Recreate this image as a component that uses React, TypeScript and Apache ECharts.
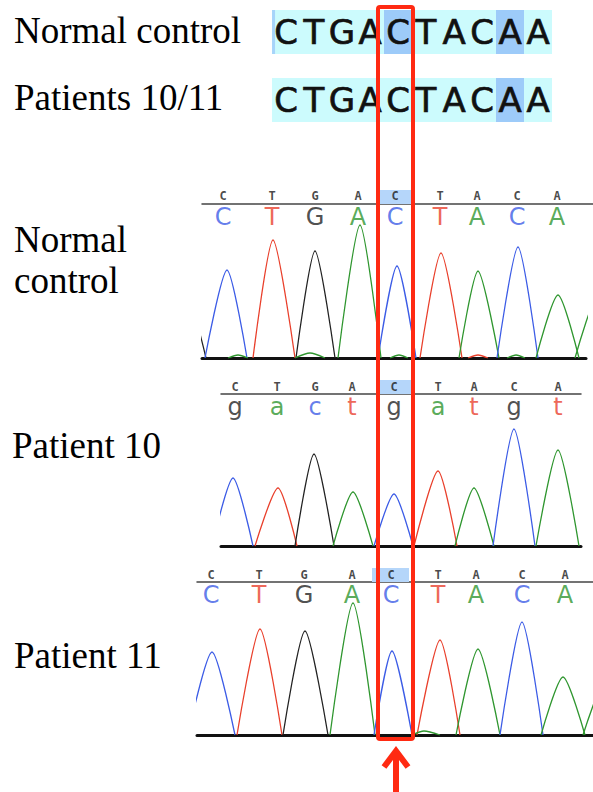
import React, { useEffect, useRef } from "react";
import * as echarts from "echarts";

// ---------- DATA ----------
const TOP_SEQ_NORMAL = ["C", "T", "G", "A", "C", "T", "A", "C", "A", "A"];
const TOP_SEQ_PATIENT = ["C", "T", "G", "A", "C", "T", "A", "C", "A", "A"];
const TOP_HL_NORMAL = [4, 8];
const TOP_HL_PATIENT = [8];

const REF_BASES = ["C", "T", "G", "A", "C", "T", "A", "C", "A"];
const CALLS_NORMAL = ["C", "T", "G", "A", "C", "T", "A", "C", "A"];
const CALLS_P10 = ["g", "a", "c", "t", "g", "a", "t", "g", "t"];
const CALLS_P11 = ["C", "T", "G", "A", "C", "T", "A", "C", "A"];

// base-call positions along the scan (scan units)
const POS_NORMAL = [21, 70, 113, 156, 193, 238, 275, 315, 355];
const POS_P10 = [14, 56, 94, 131, 173, 217, 253, 293, 337];
const POS_P11 = [14, 62, 107, 155, 194, 241, 279, 325, 368];

// highlighted reference base (scan range)
const HL_NORMAL = [178, 209];
const HL_P10 = [156, 190];
const HL_P11 = [175, 212];

// peaks: [channel, left foot, apex, intensity, right foot]
const PEAKS_NORMAL: [string, number, number, number, number][] = [
  ["G", -40, -18, 70, 4],
  ["C", 3, 25, 88, 45],
  ["T", 51, 71, 118, 93],
  ["G", 94, 113, 107, 133],
  ["A", 136, 158, 133, 179],
  ["C", 176, 195, 92, 214],
  ["T", 218, 239, 105, 260],
  ["A", 257, 276, 87, 297],
  ["C", 295, 316, 111, 336],
  ["A", 334, 356, 63, 377],
  ["A", 373, 400, 72, 425],
  ["A", 26, 36, 3, 46],
  ["A", 93, 108, 5, 123],
  ["A", 188, 197, 3, 206],
  ["T", 266, 276, 3, 286],
  ["A", 305, 314, 3, 323],
];
const PEAKS_P10: [string, number, number, number, number][] = [
  ["C", -9, 12, 68, 32],
  ["T", 34, 57, 58, 76],
  ["G", 74, 93, 92, 113],
  ["A", 112, 132, 54, 152],
  ["C", 153, 173, 52, 192],
  ["T", 193, 217, 75, 236],
  ["A", 234, 253, 58, 273],
  ["C", 272, 293, 117, 314],
  ["A", 315, 337, 96, 358],
];
const PEAKS_P11: [string, number, number, number, number][] = [
  ["C", -9, 15, 83, 38],
  ["T", 40, 63, 106, 85],
  ["G", 86, 108, 104, 131],
  ["A", 133, 156, 132, 178],
  ["C", 177, 195, 84, 215],
  ["T", 220, 243, 95, 263],
  ["A", 259, 281, 86, 303],
  ["C", 303, 325, 113, 346],
  ["A", 344, 366, 58, 388],
  ["A", 386, 412, 62, 436],
  ["A", 215, 227, 4, 243],
];

// ---------- STYLE ----------
const BASE_COLORS: Record<string, string> = {
  A: "#2f962f",
  C: "#3c5ce6",
  G: "#222222",
  T: "#e9402c",
};
const CYAN = "#ccfbfd";
const TOP_HL = "#9dcbf9";
const REF_HL = "#b5d6fa";
const RED = "#ff2a12";

const PANELS = [
  {
    refs: REF_BASES, calls: CALLS_NORMAL, pos: POS_NORMAL, hl: HL_NORMAL, peaks: PEAKS_NORMAL,
    left: 202, traceW: 384, refW: 391, refTop: 190, refH: 14, refY: 0.56,
    traceTop: 204, traceH: 154, callY: 141,
  },
  {
    refs: REF_BASES, calls: CALLS_P10, pos: POS_P10, hl: HL_P10, peaks: PEAKS_P10,
    left: 221, traceW: 360, refW: 360, refTop: 380, refH: 14, refY: 0.5,
    traceTop: 394, traceH: 152, callY: 139,
  },
  {
    refs: REF_BASES, calls: CALLS_P11, pos: POS_P11, hl: HL_P11, peaks: PEAKS_P11,
    left: 197, traceW: 396, refW: 396, refTop: 568, refH: 14, refY: 0.5,
    traceTop: 582, traceH: 153, callY: 140,
  },
];

function hiddenAxis(gridIndex: number, min: number, max: number) {
  return {
    type: "value", gridIndex, min, max,
    axisLine: { show: false }, axisTick: { show: false },
    axisLabel: { show: false }, splitLine: { show: false },
  };
}

function lineAxis(gridIndex: number, min: number, max: number, color: string, width: number) {
  return {
    type: "value", gridIndex, min, max,
    axisLine: { show: true, onZero: false, lineStyle: { color, width } },
    axisTick: { show: false }, axisLabel: { show: false }, splitLine: { show: false },
  };
}

function buildOption() {
  const grid: any[] = [];
  const xAxis: any[] = [];
  const yAxis: any[] = [];
  const series: any[] = [];

  // top sequence rows
  const rows = [
    { seq: TOP_SEQ_NORMAL, hl: TOP_HL_NORMAL, top: 10, strip: true },
    { seq: TOP_SEQ_PATIENT, hl: TOP_HL_PATIENT, top: 78, strip: false },
  ];
  rows.forEach((row) => {
    const gi = grid.length;
    grid.push({ left: 272, top: row.top, width: 280, height: 44 });
    xAxis.push(hiddenAxis(gi, 0, 10));
    yAxis.push(hiddenAxis(gi, 0, 1));
    series.push({
      type: "bar", xAxisIndex: gi, yAxisIndex: gi, barWidth: 28, silent: true, z: 2,
      data: row.seq.map((l, i) => ({
        value: [i + 0.5, 1], name: l,
        itemStyle: { color: row.hl.includes(i) ? TOP_HL : CYAN },
      })),
      label: {
        show: true, position: "inside", formatter: "{b}",
        fontFamily: "DejaVu Sans", fontSize: 34, color: "#111",
        textBorderColor: "#111", textBorderWidth: 0.7,
      },
    });
    if (row.strip) {
      series.push({
        type: "scatter", xAxisIndex: gi, yAxisIndex: gi, silent: true, z: 3,
        symbol: "rect", symbolSize: [3, 44],
        itemStyle: { color: TOP_HL },
        data: [[0.055, 0.5]],
      });
    }
  });

  PANELS.forEach((p) => {
    // reference row
    const rg = grid.length;
    grid.push({ left: p.left, top: p.refTop, width: p.refW, height: p.refH });
    xAxis.push(lineAxis(rg, 0, p.refW, "#444", 1.5));
    yAxis.push(hiddenAxis(rg, 0, 1));
    series.push({
      type: "bar", xAxisIndex: rg, yAxisIndex: rg, silent: true, z: 1,
      barWidth: p.hl[1] - p.hl[0],
      data: [{ value: [(p.hl[0] + p.hl[1]) / 2, 1], itemStyle: { color: REF_HL } }],
    });
    series.push({
      type: "scatter", xAxisIndex: rg, yAxisIndex: rg, symbolSize: 1, silent: true, z: 5,
      itemStyle: { color: "rgba(0,0,0,0)" },
      data: p.refs.map((l, i) => ({ value: [p.pos[i], p.refY], name: l })),
      label: {
        show: true, position: "inside", formatter: "{b}",
        fontFamily: "DejaVu Sans Mono", fontSize: 12, fontWeight: "bold",
        lineHeight: 11, color: "#1a1a1a",
      },
    });

    // trace
    const tg = grid.length;
    grid.push({ left: p.left, top: p.traceTop, width: p.traceW, height: p.traceH });
    xAxis.push(lineAxis(tg, 0, p.traceW, "#111", 3));
    yAxis.push(hiddenAxis(tg, 0, p.traceH));
    series.push({
      type: "scatter", xAxisIndex: tg, yAxisIndex: tg, symbolSize: 1, silent: true, z: 5,
      itemStyle: { color: "rgba(0,0,0,0)" },
      data: p.calls.map((l, i) => ({
        value: [p.pos[i], p.callY], name: l,
        label: { color: BASE_COLORS[l.toUpperCase()] },
      })),
      label: {
        show: true, position: "inside", formatter: "{b}",
        fontFamily: "DejaVu Sans", fontSize: 24, lineHeight: 18,
      },
    });
    p.peaks.forEach(([b, l, apex, h, r]) => {
      series.push({
        type: "line", xAxisIndex: tg, yAxisIndex: tg, silent: true, z: 3,
        showSymbol: false, smooth: 0.25, clip: true,
        data: [[l, 0], [apex, h], [r, 0]],
        lineStyle: { color: BASE_COLORS[b], width: 1.3 },
      });
    });
  });

  const label = (text: string, x: number, baseline: number) => ({
    type: "text", x, y: baseline - 12.5, z: 50,
    style: {
      text, fontFamily: "Liberation Serif", fontSize: 37, fill: "#000",
      textAlign: "left", verticalAlign: "middle",
    },
  });

  const graphic = [
    label("Normal control", 14, 43),
    label("Patients 10/11", 14, 110),
    label("Normal", 14, 252),
    label("control", 14, 293),
    label("Patient 10", 12, 458),
    label("Patient 11", 14, 668),
    {
      type: "rect", z: 100, silent: true,
      shape: { x: 378, y: 7, width: 35, height: 732, r: 2 },
      style: { fill: "none", stroke: RED, lineWidth: 4 },
    },
    {
      type: "polyline", z: 100, silent: true,
      shape: { points: [[384, 767], [396, 751], [408, 767]] },
      style: { fill: "none", stroke: RED, lineWidth: 6, lineJoin: "miter" },
    },
    {
      type: "line", z: 100, silent: true,
      shape: { x1: 396, y1: 753, x2: 396, y2: 792 },
      style: { stroke: RED, lineWidth: 6 },
    },
  ];

  return {
    animation: false,
    backgroundColor: "#ffffff",
    grid, xAxis, yAxis, series, graphic,
  };
}

export default function App() {
  const ref = useRef<HTMLDivElement>(null);
  useEffect(() => {
    const chart = echarts.init(ref.current!, null, { renderer: "svg" });
    chart.setOption(buildOption() as any);
    return () => chart.dispose();
  }, []);
  return (
    <div
      ref={ref}
      style={{ position: "absolute", left: 0, top: 0, width: 593, height: 792, background: "#fff" }}
    />
  );
}
